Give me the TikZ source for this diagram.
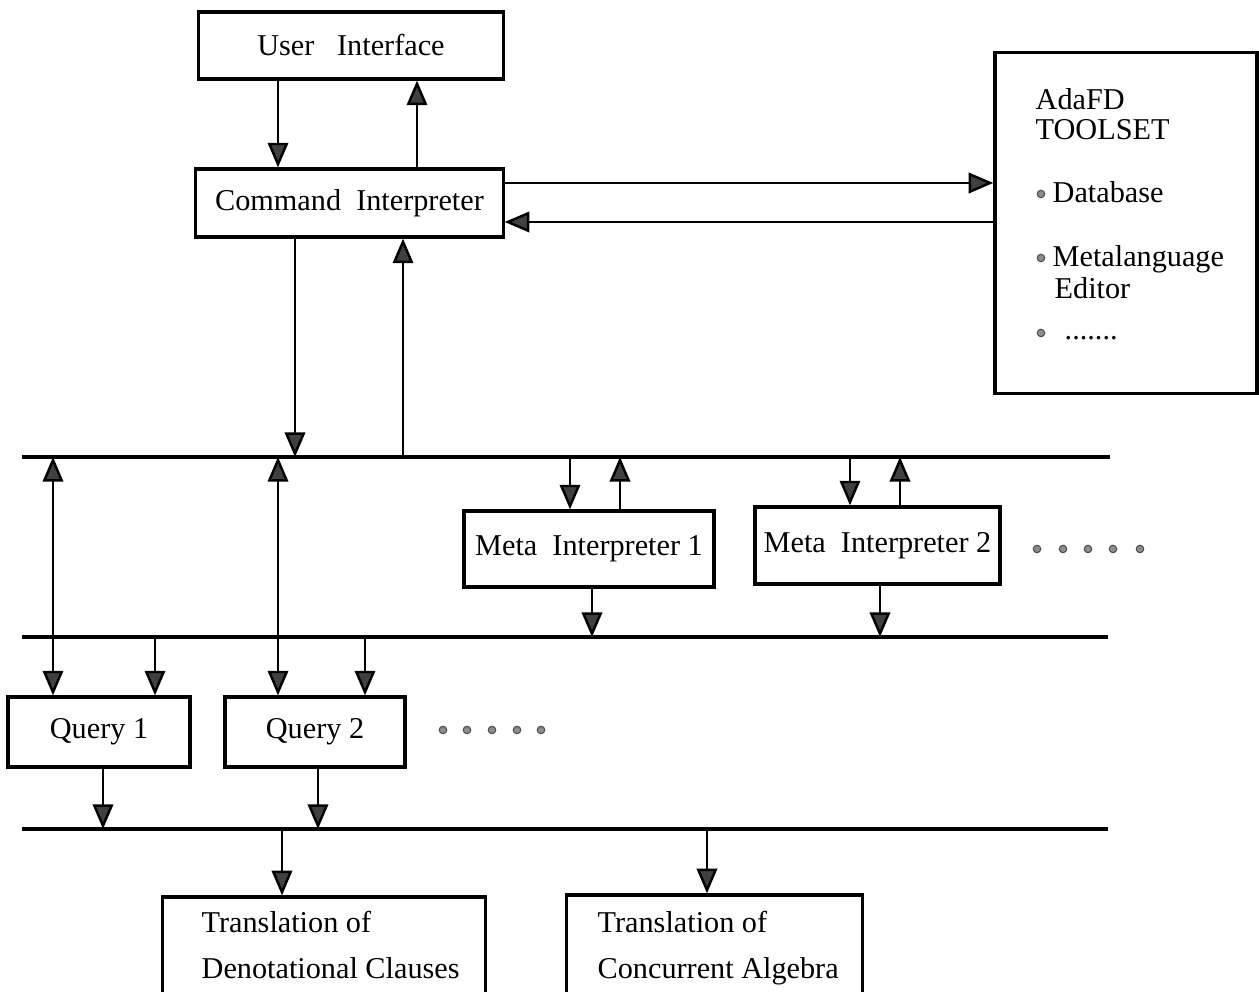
\documentclass[tikz,border=0pt]{standalone}
\usepackage{fontspec}
\setmainfont{Liberation Serif}
\usetikzlibrary{arrows.meta}

\begin{document}
\begin{tikzpicture}[x=0.01cm,y=-0.01cm,
    box/.style={draw,line width=0.9pt,inner sep=0pt},
    txt/.style={inner sep=0pt,anchor=base west},
    bus/.style={line width=1.4pt},
    arr/.style={line width=0.7pt,-{Triangle[length=7pt,width=5.8pt,fill=black!75]}},
    darr/.style={line width=0.7pt,{Triangle[length=7pt,width=5.8pt,fill=black!75]}-{Triangle[length=7pt,width=5.8pt,fill=black!75]}},
    dot/.style={circle,fill=black!45,draw=black!70,line width=0.3pt,inner sep=0pt,minimum size=0.075cm},
    font=\fontsize{8.6}{10}\selectfont]
      \useasboundingbox (0,0) rectangle (1259,992);
      \clip (0,0) rectangle (1259,992);
      % boxes
      \node[box,minimum width=3.04cm,minimum height=0.67cm] (ui) at (351,45.5) {User~~~Interface};
      \node[box,minimum width=3.07cm,minimum height=0.68cm] (ci) at (349.5,203) {Command~~Interpreter};
      \node[box,minimum width=2.62cm,minimum height=3.40cm] (ts) at (1126,223) {};
      \node[box,minimum width=2.50cm,minimum height=0.76cm] (mi1) at (589,549) {Meta~~Interpreter 1};
      \node[box,minimum width=2.45cm,minimum height=0.77cm] (mi2) at (877.5,545.5) {Meta~~Interpreter 2};
      \node[box,minimum width=1.82cm,minimum height=0.70cm] (q1) at (99,732) {Query 1};
      \node[box,minimum width=1.80cm,minimum height=0.70cm] (q2) at (315,732) {Query 2};
      \node[box,minimum width=3.22cm,minimum height=1.33cm] (tr1) at (324,963.5) {};
      \node[box,minimum width=2.95cm,minimum height=1.35cm] (tr2) at (714.5,962.5) {};
      % toolset text
      \node[txt] (tsa) at (1035,110) {AdaFD};
      \node[txt] (tsb) at (1035,140) {TOOLSET};
      \node[dot] (tsd1) at (1041,194) {};
      \node[txt] (tsc) at (1052,203) {Database};
      \node[dot] (tsd2) at (1041,258) {};
      \node[txt] (tsm) at (1052,267) {Metalanguage};
      \node[txt] (tse) at (1054,299) {Editor};
      \node[dot] (tsd3) at (1041,333) {};
      \node[txt] (tsf) at (1064,340) {.......};
      % translation text
      \node[txt] (tr1a) at (201,933) {Translation of};
      \node[txt] (tr1b) at (201,979) {Denotational Clauses};
      \node[txt] (tr2a) at (597,933) {Translation of};
      \node[txt] (tr2b) at (597,979) {Concurrent Algebra};
      % dots
      \foreach \x [count=\i] in {1037,1063,1088,1113,1140}
        \node[dot] (md\i) at (\x,549) {};
      \foreach \x [count=\i] in {443,467,492,517,541}
        \node[dot] (qd\i) at (\x,730) {};
      % buses
      \draw[bus] (22,457) -- (1110,457);
      \draw[bus] (22,637) -- (1108,637);
      \draw[bus] (22,829) -- (1108,829);
      \coordinate (ux1) at (278,120);
      \coordinate (ux2) at (417,120);
      \coordinate (ty1) at (750,183);
      \coordinate (ty2) at (750,222);
      \coordinate (b1a) at (53,457);
      \coordinate (b1b) at (278,457);
      \coordinate (b1c) at (295,457);
      \coordinate (b1d) at (403,457);
      \coordinate (b1e) at (570,457);
      \coordinate (b1f) at (620,457);
      \coordinate (b1g) at (850,457);
      \coordinate (b1h) at (900,457);
      \coordinate (b2a) at (155,637);
      \coordinate (b2b) at (365,637);
      \coordinate (b2c) at (592,637);
      \coordinate (b2d) at (880,637);
      \coordinate (b3a) at (103,829);
      \coordinate (b3b) at (318,829);
      \coordinate (b3c) at (282,829);
      \coordinate (b3d) at (707,829);
      % arrows
      \draw[arr] (ui.south -| ux1) -- (ci.north -| ux1);
      \draw[arr] (ci.north -| ux2) -- (ui.south -| ux2);
      \draw[arr] (ci.east |- ty1) -- (ts.west |- ty1);
      \draw[arr] (ts.west |- ty2) -- (ci.east |- ty2);
      \draw[arr] (ci.south -| b1c) -- (b1c);
      \draw[arr] (b1d) -- (ci.south -| b1d);
      \draw[darr] (b1a) -- (q1.north -| b1a);
      \draw[darr] (b1b) -- (q2.north -| b1b);
      \draw[arr] (b1e) -- (mi1.north -| b1e);
      \draw[arr] (mi1.north -| b1f) -- (b1f);
      \draw[arr] (b1g) -- (mi2.north -| b1g);
      \draw[arr] (mi2.north -| b1h) -- (b1h);
      \draw[arr] (mi1.south -| b2c) -- (b2c);
      \draw[arr] (mi2.south -| b2d) -- (b2d);
      \draw[arr] (b2a) -- (q1.north -| b2a);
      \draw[arr] (b2b) -- (q2.north -| b2b);
      \draw[arr] (q1.south -| b3a) -- (b3a);
      \draw[arr] (q2.south -| b3b) -- (b3b);
      \draw[arr] (b3c) -- (tr1.north -| b3c);
      \draw[arr] (b3d) -- (tr2.north -| b3d);
    \end{tikzpicture}
\end{document}
